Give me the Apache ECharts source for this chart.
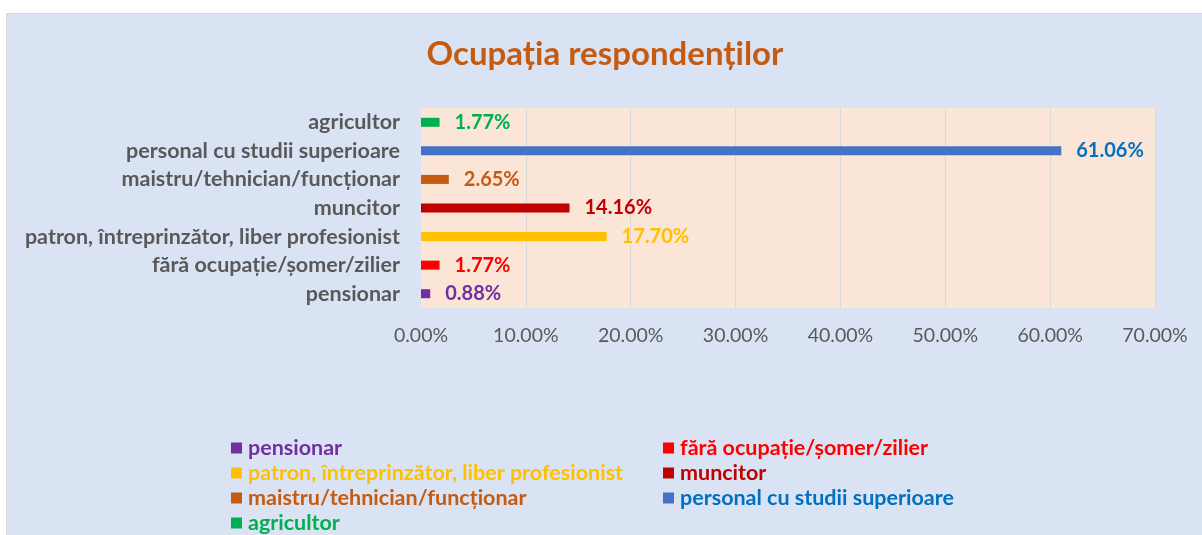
<!DOCTYPE html>
<html>
<head>
    <meta charset="UTF-8">
    <title>Ocupația respondenților</title>
    <script src="https://cdn.jsdelivr.net/npm/echarts@6/dist/echarts.min.js"></script>
    <style>
        body { margin: 0; background: #ffffff; }
        #chart {
            position: absolute; left: 6px; top: 13px;
            width: 1196px; height: 522px;
            background: #dae3f3;
            border-left: 1px solid #d6d6d6; border-top: 1px solid #d6d6d6;
        }
    </style>
</head>
<body>
<div id="chart"></div>
<script type="text/javascript">
    // categorii (de jos in sus, ca pe axa)
    var categories = ['pensionar', 'fără ocupație/șomer/zilier', 'patron, întreprinzător, liber profesionist',
        'muncitor', 'maistru/tehnician/funcționar', 'personal cu studii superioare', 'agricultor'];
    var values = [0.88, 1.77, 17.70, 14.16, 2.65, 61.06, 1.77];
    var barColors = ['#7030a0', '#ff0000', '#ffc000', '#c00000', '#c55a11', '#4472c4', '#00b050'];
    var textColors = ['#7030a0', '#ff0000', '#ffc000', '#c00000', '#c55a11', '#0070c0', '#00b050'];
    var xTicks = [0, 10, 20, 30, 40, 50, 60, 70];

    var font = 'Lato';

    var series = categories.map(function (name, i) {
        return {
            name: name,
            type: 'bar',
            stack: 'total',
            barWidth: 9,
            itemStyle: { color: barColors[i] },
            label: {
                show: true,
                position: 'right',
                distance: 15,
                fontFamily: font,
                fontWeight: 'bold',
                fontSize: 20,
                color: textColors[i],
                formatter: function (p) { return p.value.toFixed(2) + '%'; }
            },
            data: categories.map(function (c, j) { return j === i ? values[i] : '-'; })
        };
    });

    function legendItems(idx) {
        return idx.map(function (i) {
            return { name: categories[i], textStyle: { color: textColors[i] } };
        });
    }
    var legendBase = {
        orient: 'vertical',
        top: 423,
        icon: 'rect',
        itemWidth: 11,
        itemHeight: 11,
        itemGap: 3,
        padding: 0,
        selectedMode: false,
        textStyle: { fontFamily: font, fontWeight: 'bold', fontSize: 21.5, lineHeight: 22, padding: [0, 0, 0, 1] }
    };

    var myChart = echarts.init(document.getElementById('chart'));
    var option = {
        animation: false,
        title: {
            text: 'Ocupația respondenților',
            left: 'center',
            top: 24,
            padding: 0,
            textStyle: { fontFamily: font, fontWeight: 'bold', fontSize: 33, color: '#c55a11' }
        },
        legend: [
            Object.assign({}, legendBase, { left: 224, data: legendItems([0, 2, 4, 6]) }),
            Object.assign({}, legendBase, { left: 656, data: legendItems([1, 3, 5]) })
        ],
        grid: {
            left: 414, right: 48, top: 94, height: 200,
            show: true, backgroundColor: '#fbe5d6', borderWidth: 0
        },
        xAxis: {
            type: 'value',
            min: xTicks[0],
            max: xTicks[xTicks.length - 1],
            interval: 10,
            axisLine: { show: false },
            axisTick: { show: false },
            splitLine: { show: true, showMinLine: false, lineStyle: { color: '#d9d9d9', width: 1 } },
            axisLabel: {
                margin: 18,
                fontFamily: font, fontSize: 19.5, color: '#595959',
                formatter: function (v) { return v.toFixed(2) + '%'; }
            }
        },
        yAxis: {
            type: 'category',
            data: categories,
            axisLine: { show: false },
            axisTick: { show: false },
            axisLabel: { interval: 0, margin: 21, fontFamily: font, fontWeight: 'bold', fontSize: 21.5, color: '#595959' }
        },
        series: series
    };
    myChart.setOption(option);
</script>
</body>
</html>
